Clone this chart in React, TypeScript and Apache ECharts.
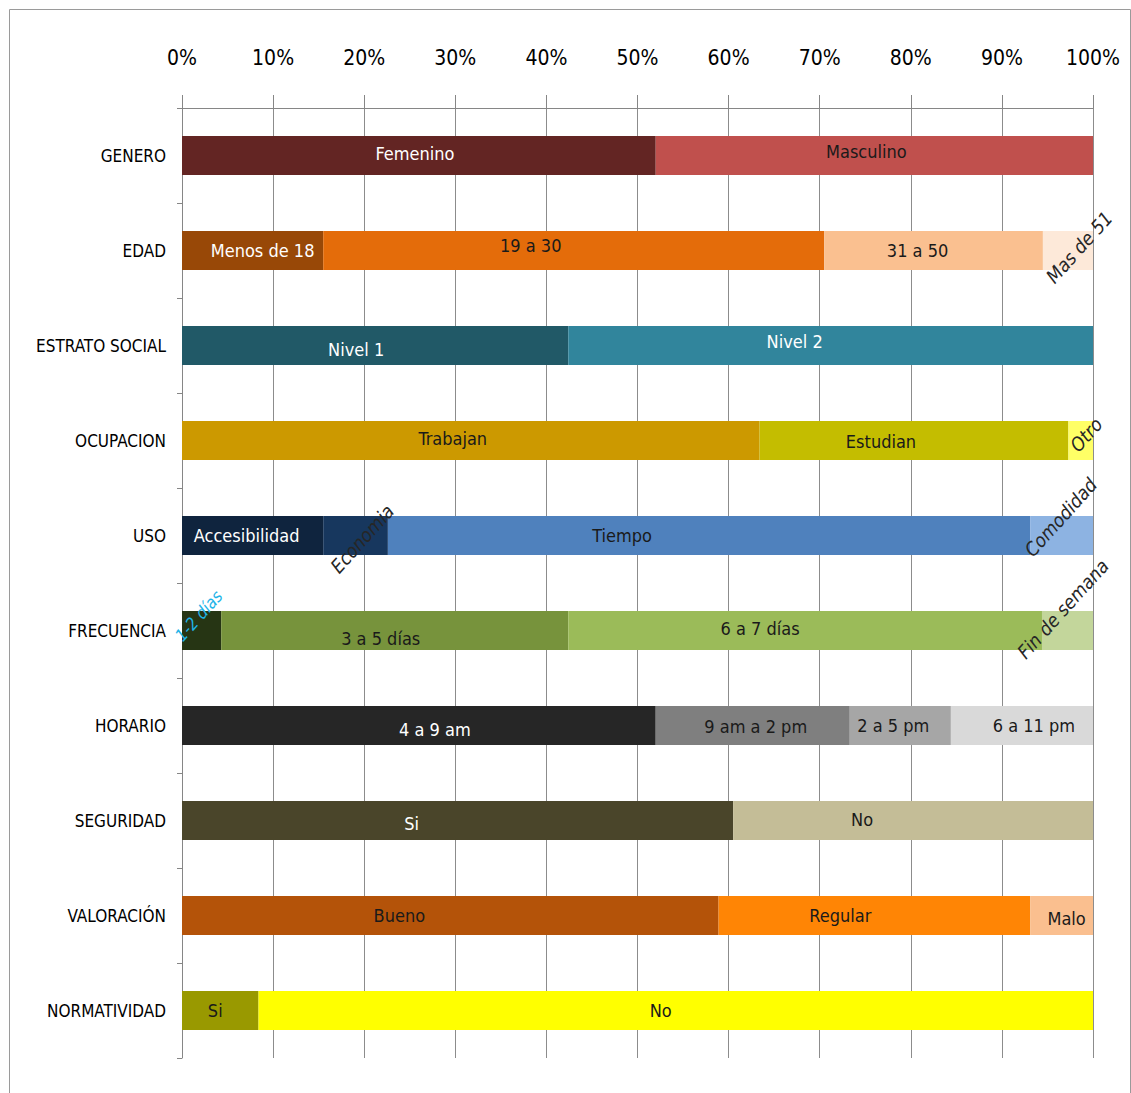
import React, { useEffect, useRef } from "react";
import * as echarts from "echarts";

const categories = [
  "GENERO",
  "EDAD",
  "ESTRATO SOCIAL",
  "OCUPACION",
  "USO",
  "FRECUENCIA",
  "HORARIO",
  "SEGURIDAD",
  "VALORACIÓN",
  "NORMATIVIDAD",
];

const generoValues = [52, 48];
const generoLabels = ["Femenino", "Masculino"];
const edadValues = [15.5, 55, 24, 5.5];
const edadLabels = ["Menos de 18", "19 a 30", "31 a 50", "Mas de 51"];
const estratoValues = [42.4, 57.6];
const estratoLabels = ["Nivel 1", "Nivel 2"];
const ocupacionValues = [63.4, 33.9, 2.7];
const ocupacionLabels = ["Trabajan", "Estudian", "Otro"];
const usoValues = [15.5, 7.1, 70.5, 6.9];
const usoLabels = ["Accesibilidad", "Economia", "Tiempo", "Comodidad"];
const frecuenciaValues = [4.3, 38.1, 52, 5.6];
const frecuenciaLabels = ["1-2 días", "3 a 5 días", "6 a 7 días", "Fin de semana"];
const horarioValues = [52, 21.3, 11.1, 15.6];
const horarioLabels = ["4 a 9 am", "9 am a 2 pm", "2 a 5 pm", "6 a 11 pm"];
const seguridadValues = [60.5, 39.5];
const seguridadLabels = ["Si", "No"];
const valoracionValues = [58.9, 34.2, 6.9];
const valoracionLabels = ["Bueno", "Regular", "Malo"];
const normatividadValues = [8.4, 91.6];
const normatividadLabels = ["Si", "No"];

const rowValues = [
  generoValues,
  edadValues,
  estratoValues,
  ocupacionValues,
  usoValues,
  frecuenciaValues,
  horarioValues,
  seguridadValues,
  valoracionValues,
  normatividadValues,
];
const rowLabels = [
  generoLabels,
  edadLabels,
  estratoLabels,
  ocupacionLabels,
  usoLabels,
  frecuenciaLabels,
  horarioLabels,
  seguridadLabels,
  valoracionLabels,
  normatividadLabels,
];

// styles
const rowColors = [
  ["#632523", "#c0504d"],
  ["#984807", "#e46c0a", "#fac090", "#fde9d9"],
  ["#215967", "#31859c"],
  ["#cc9900", "#c4bd00", "#ffff66"],
  ["#0f243e", "#17375e", "#4f81bd", "#8db3e2"],
  ["#263514", "#77933c", "#9bbb59", "#c3d69b"],
  ["#262626", "#7f7f7f", "#a6a6a6", "#d9d9d9"],
  ["#4a452a", "#c4bd97"],
  ["#b45309", "#ff8505", "#fabf8f"],
  ["#999900", "#ffff00"],
];
const whiteText = new Set(["0-0", "1-0", "2-0", "2-1", "4-0", "6-0", "7-0"]);
// label nudges (layout only), [dx, dy] in pixels
const labelNudge: Record<string, number[]> = {
  "0-0": [-4, -2],
  "0-1": [-8, -4],
  "1-0": [10, 0],
  "1-1": [-43, -5],
  "1-2": [-16, 0],
  "2-0": [-19, 4],
  "2-1": [-36, -4],
  "3-0": [-18, -2],
  "3-1": [-33, 1],
  "4-0": [-6, 0],
  "4-2": [-87, 0],
  "5-1": [-14, 8],
  "5-2": [-45, -2],
  "6-0": [16, 4],
  "6-1": [3, 1],
  "6-2": [-7, 0],
  "6-3": [12, 0],
  "7-0": [-46, 3],
  "7-1": [-51, -1],
  "8-0": [-51, 0],
  "8-1": [-34, 0],
  "8-2": [5, 3],
  "9-0": [-5, 0],
  "9-1": [-15, 0],
};
const rotatedLabels: Record<string, { offset: number[]; color?: string; size?: number }> = {
  "1-3": { offset: [10, 6] },
  "3-2": { offset: [8, 0] },
  "4-1": { offset: [2, 7] },
  "4-3": { offset: [13, -13] },
  "5-0": { offset: [9, -12], color: "#1fb4e8", size: 17 },
  "5-3": { offset: [13, -18] },
};

const FONT = "'DejaVu Sans Condensed', 'Liberation Sans Narrow', 'Liberation Sans', sans-serif";

export default function App() {
  const ref = useRef<HTMLDivElement>(null);

  useEffect(() => {
    document.body.style.margin = "0";
    if (!ref.current) return;
    const chart = echarts.init(ref.current, undefined, { renderer: "svg" });

    const maxSeg = Math.max(...rowValues.map((r) => r.length));
    const series: any[] = [];
    for (let s = 0; s < maxSeg; s++) {
      series.push({
        type: "bar",
        stack: "total",
        barWidth: 39,
        data: rowValues.map((vals, r) => {
          if (s >= vals.length) return "-";
          const key = `${r}-${s}`;
          const rot = rotatedLabels[key];
          const label: any = {
            show: true,
            position: "inside",
            formatter: rowLabels[r][s],
            fontFamily: FONT,
            fontSize: 18,
            color: whiteText.has(key) ? "#ffffff" : "#1a1a1a",
            offset: labelNudge[key] || [0, 0],
          };
          if (rot) {
            label.rotate = 48;
            label.offset = rot.offset;
            label.fontStyle = "italic";
            label.fontSize = rot.size || 19;
            label.color = rot.color || "#262626";
          }
          return {
            value: vals[s],
            itemStyle: { color: rowColors[r][s] },
            label,
          };
        }),
      });
    }

    chart.setOption({
      animation: false,
      backgroundColor: "#ffffff",
      graphic: [
        {
          type: "rect",
          silent: true,
          z: -10,
          shape: { x: 9.5, y: 9.5, width: 1121, height: 1100 },
          style: { fill: "none", stroke: "#9a9a9a", lineWidth: 1 },
        },
      ],
      grid: { left: 182, right: 38, top: 108, bottom: 35, containLabel: false },
      xAxis: {
        type: "value",
        position: "top",
        min: 0,
        max: 100,
        interval: 10,
        axisLine: { show: true, lineStyle: { color: "#868686" } },
        axisTick: { show: true, length: 13, lineStyle: { color: "#868686" } },
        splitLine: { show: true, lineStyle: { color: "#8c8c8c", width: 1 } },
        axisLabel: {
          formatter: (v: number) => `${v}%`,
          fontFamily: FONT,
          fontSize: 21,
          color: "#000000",
          margin: 40,
        },
      },
      yAxis: {
        type: "category",
        data: categories,
        inverse: true,
        axisLine: { show: true, lineStyle: { color: "#868686" } },
        axisTick: { show: true, length: 5, lineStyle: { color: "#868686" } },
        axisLabel: {
          fontFamily: FONT,
          fontSize: 17,
          color: "#000000",
          margin: 16,
        },
      },
      series,
    });

    return () => chart.dispose();
  }, []);

  return <div ref={ref} style={{ width: 1131, height: 1093 }} />;
}
